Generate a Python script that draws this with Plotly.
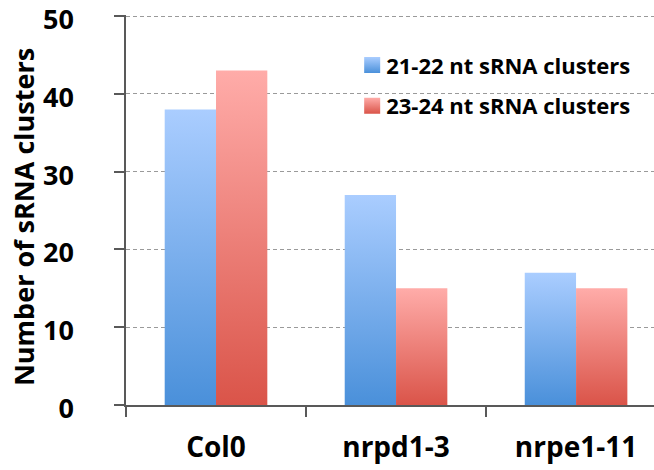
import plotly.graph_objects as go

categories = ["Col0", "nrpd1-3", "nrpe1-11"]
series_names = ["21-22 nt sRNA clusters", "23-24 nt sRNA clusters"]
values_2122 = [38, 27, 17]
values_2324 = [43, 15, 15]
y_ticks = [0, 10, 20, 30, 40, 50]

blue_mid = "#7CADEB"
red_mid = "#EC7D77"

font_family = "'Open Sans', Lato, sans-serif"

fig = go.Figure()
fig.add_trace(go.Bar(x=categories, y=values_2122, name=series_names[0],
                     marker=dict(color=blue_mid, line=dict(width=0)),
                     legendgroup="a"))
fig.add_trace(go.Bar(x=categories, y=values_2324, name=series_names[1],
                     marker=dict(color=red_mid, line=dict(width=0)),
                     legendgroup="b"))

fig.update_layout(
    width=654, height=470,
    margin=dict(l=126, r=0, t=15, b=65, pad=0, autoexpand=False),
    paper_bgcolor="white", plot_bgcolor="white",
    barmode="group", bargap=0.43, bargroupgap=0,
    font=dict(family=font_family, color="black", size=26, weight="bold"),
    showlegend=True,
    legend=dict(x=0.417, y=0.925, xanchor="left", yanchor="top",
                bgcolor="rgba(0,0,0,0)", font=dict(size=22, weight="bold"),
                tracegroupgap=9, itemwidth=30),
    xaxis=dict(type="category", range=[-0.5, 2.433], showline=True,
               automargin=False,
               linecolor="#595959", linewidth=1.5, ticks="outside",
               tickson="boundaries", ticklen=10, tickcolor="#595959",
               tickwidth=1.5, showgrid=False, ticklabelstandoff=17,
               tickfont=dict(size=28, weight="bold")),
    yaxis=dict(range=[0, 50.15], tickvals=y_ticks, showline=True,
               automargin=False,
               linecolor="#595959", linewidth=1.5, ticks="outside",
               ticklen=10, tickcolor="#595959", tickwidth=1.5,
               showgrid=True, gridcolor="#9a9a9a", griddash="4px,3px",
               gridwidth=1.2, zeroline=False, ticklabelstandoff=35,
               ticklabeloverflow="allow",
               tickfont=dict(size=27, weight="bold"),
               title=dict(text="Number of sRNA clusters", standoff=1,
                          font=dict(size=27, weight="bold"))),
)

post = """
(function(){
document.body.style.margin='0';
document.body.style.padding='0';
var gd = document.getElementById('{plot_id}');
function addGrad(svg, id, top, bottom){
  var ns='http://www.w3.org/2000/svg';
  var defs = svg.querySelector('defs');
  if(!defs){defs=document.createElementNS(ns,'defs');svg.insertBefore(defs, svg.firstChild);}
  if(svg.querySelector('#'+id)) return;
  var g=document.createElementNS(ns,'linearGradient');
  g.setAttribute('id',id);g.setAttribute('x1','0');g.setAttribute('y1','0');
  g.setAttribute('x2','0');g.setAttribute('y2','1');
  var s1=document.createElementNS(ns,'stop');s1.setAttribute('offset','0');s1.setAttribute('stop-color',top);
  var s2=document.createElementNS(ns,'stop');s2.setAttribute('offset','1');s2.setAttribute('stop-color',bottom);
  g.appendChild(s1);g.appendChild(s2);defs.appendChild(g);
}
function shift(el, dy){
  if(!el || el.getAttribute('data-shift')) return;
  el.setAttribute('transform', (el.getAttribute('transform')||'') + ' translate(0,' + dy + ')');
  el.setAttribute('data-shift','1');
}
function apply(){
  var svgs = gd.querySelectorAll('svg.main-svg');
  var ids=['gradB','gradR'];
  svgs.forEach(function(sv){
    addGrad(sv,'gradB','#AACDFF','#4A90DA');
    addGrad(sv,'gradR','#FFACA9','#DA5449');
    sv.querySelectorAll('.barlayer .trace.bars').forEach(function(t,i){
      t.querySelectorAll('path').forEach(function(p){p.style.fill='url(#'+ids[i%2]+')';});
    });
    sv.querySelectorAll('.legend .traces').forEach(function(t,i){
      t.querySelectorAll('.legendpoints path').forEach(function(p){
        p.setAttribute('d','M14,8H-2V-8H14Z');
        p.style.fill='url(#'+ids[i%2]+')';
      });
    });
    sv.querySelectorAll('.yaxislayer-above g.ytick').forEach(function(g){ shift(g, 3.5); });
    shift(sv.querySelector('.g-ytitle'), 7);
  });
}
apply();
gd.on && gd.on('plotly_afterplot', apply);
})();
"""

fig.write_html("out.html", post_script=post, config={"displayModeBar": False})
